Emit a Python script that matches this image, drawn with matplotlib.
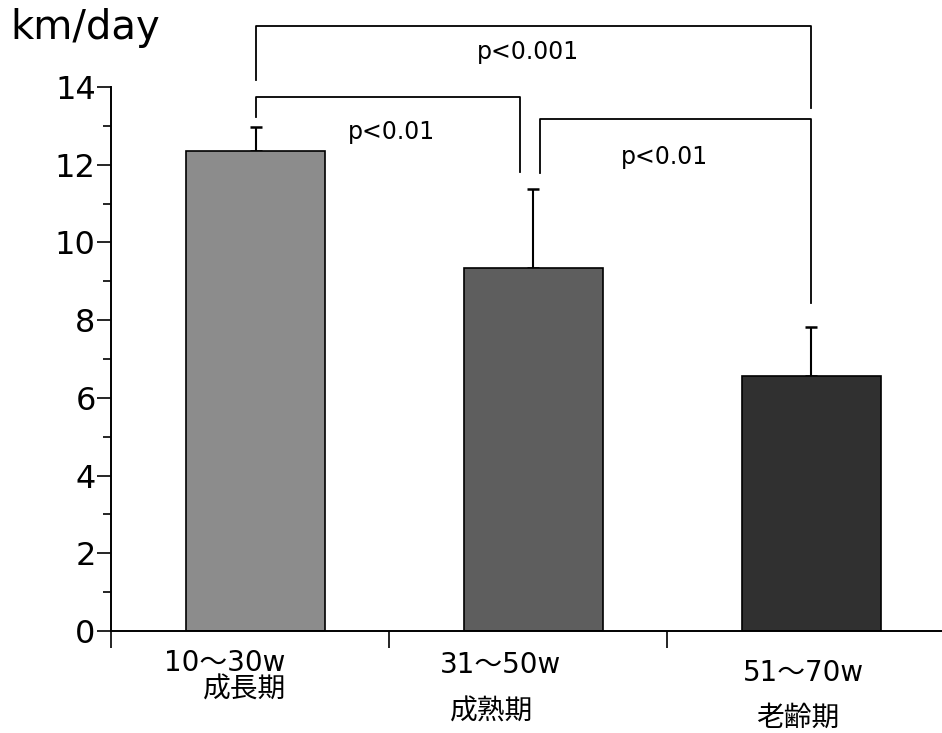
import numpy as np
import matplotlib.pyplot as plt
from matplotlib.ticker import MultipleLocator

# data
ages = ["10～30w", "31～50w", "51～70w"]
stages = ["成長期", "成熟期", "老齢期"]
means = [12.35, 9.35, 6.55]
sds = [0.62, 2.03, 1.28]
bar_colors = ["#8c8c8c", "#5e5e5e", "#303030"]

# significance brackets: (left x, right x, top y, left drop, right drop, label, label x, label y)
brackets = [
    (0.0, 2.0, 15.57, 14.18, 13.46, "p<0.001", 0.98, 14.9),
    (0.0, 0.95, 13.74, 13.23, 11.81, "p<0.01", 0.49, 12.84),
    (1.025, 2.0, 13.18, 11.79, 8.44, "p<0.01", 1.47, 12.2),
]

plt.rcParams['font.family'] = ['DejaVu Sans', 'Noto Sans CJK JP']

fig = plt.figure(figsize=(9.42, 7.33), dpi=100)
ax = fig.add_axes([111 / 942, 102 / 733, 831 / 942, 544 / 733])

x = np.arange(len(means))
ax.bar(x, means, width=0.5, color=bar_colors, edgecolor="black", linewidth=1.2,
       zorder=2)
ax.errorbar(x, means, yerr=[np.zeros(len(sds)), sds], fmt="none",
            ecolor="black", elinewidth=1.5, capsize=4.5, capthick=1.8, zorder=1)

for x0, x1, top, y0, y1, label, tx, ty in brackets:
    ax.plot([x0, x0, x1, x1], [y0, top, top, y1], color="black", lw=1.3,
            clip_on=False)
    ax.text(tx, ty, label, ha="center", va="center", fontsize=17)

ax.set_xlim(-0.52, 2.47)
ax.set_ylim(0, 14)
ax.spines["top"].set_visible(False)
ax.spines["right"].set_visible(False)
ax.spines["left"].set_linewidth(1.4)
ax.spines["bottom"].set_linewidth(1.4)

ax.set_xticks(x - 0.52)
ax.set_xticklabels([])
ax.tick_params(axis="x", direction="out", length=12, width=1.2)
ax.yaxis.set_major_locator(MultipleLocator(2))
ax.yaxis.set_minor_locator(MultipleLocator(1))
ax.tick_params(axis="y", which="major", direction="out", length=10, width=1.2,
               pad=1, labelsize=23)
ax.tick_params(axis="y", which="minor", direction="out", length=6, width=1.2)

# category labels, two rows (scan is a little tilted)
age_pos = [(-0.11, -0.82), (0.88, -0.87), (1.97, -1.08)]
stage_pos = [(-0.04, -1.52), (0.85, -2.08), (1.95, -2.24)]
for (px, py), lab in zip(age_pos, ages):
    ax.text(px, py, lab, ha="center", va="center", fontsize=20, clip_on=False)
for (px, py), lab in zip(stage_pos, stages):
    ax.text(px, py, lab, ha="center", va="center", fontsize=20,
            family=['Noto Sans CJK JP', 'DejaVu Sans'], clip_on=False)

fig.text(10 / 942, 1 - 28 / 733, "km/day", ha="left", va="center", fontsize=29)

fig.savefig("out.png", dpi=100)
